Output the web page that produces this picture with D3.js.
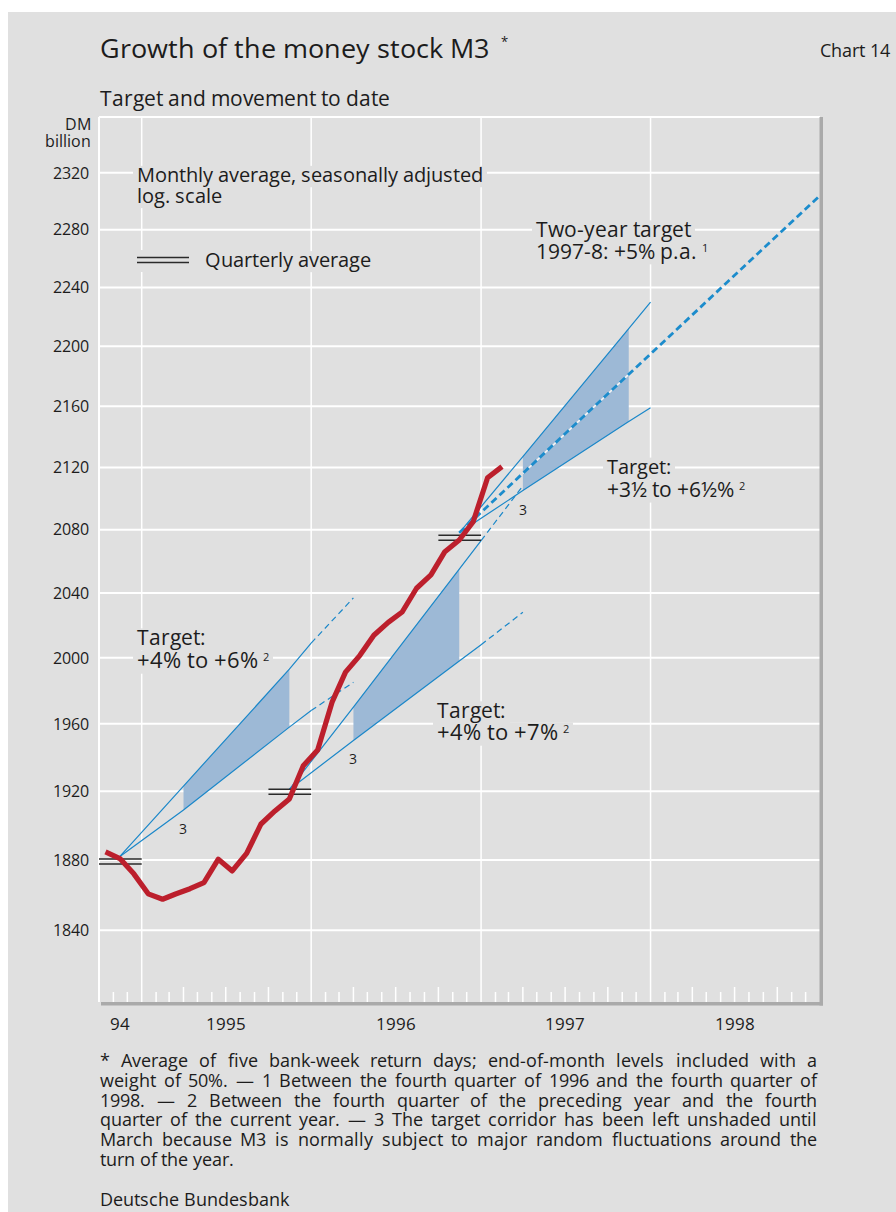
<!DOCTYPE html>
<html><head><meta charset="utf-8">
<script src="https://cdn.jsdelivr.net/npm/d3@7"></script>
<style>
@font-face{
  font-family:"OpenSansTight";
  src: local("Open Sans Regular"), local("OpenSans-Regular");
  font-weight: 400;
  ascent-override: 78%; descent-override: 20%; line-gap-override: 0%;
}
body{margin:0;background:#fff}
svg{display:block}
text{font-family:"OpenSansTight","Open Sans",sans-serif;fill:#1c1c1c}
</style>
</head><body>
<svg id="chart" width="896" height="1212"></svg>
<script>
// ---------------- DATA ----------------
const m3Months = ["1994-10","1994-11","1994-12",
  "1995-01","1995-02","1995-03","1995-04","1995-05","1995-06","1995-07","1995-08","1995-09","1995-10","1995-11","1995-12",
  "1996-01","1996-02","1996-03","1996-04","1996-05","1996-06","1996-07","1996-08","1996-09","1996-10","1996-11","1996-12",
  "1997-01","1997-02"];
const m3Values = [1884.6,1880.8,1872,
  1860.6,1857.5,1860.5,1863.5,1867,1880.4,1873.7,1883.8,1900.8,1908.4,1915.4,1935,
  1944.4,1973,1991.2,2001.5,2013.8,2021.8,2028.2,2043,2051.4,2066,2073.4,2085,
  2113.3,2120.5];

const quarterStarts = ["1994-10-01","1995-10-01","1996-10-01"];
const quarterEnds   = ["1995-01-01","1996-01-01","1997-01-01"];
const quarterAverages = [1879.1,1919.6,2074.8];

// target corridors: origin, shading start, shading end, end of solid line, end of dashed line
const corridor1995Dates = ["1994-11-15","1995-04-01","1995-11-15","1996-01-01","1996-04-01"];
const corridor1995Upper = [1882,1923,1993,2009,2037];
const corridor1995Lower = [1882,1909,1958,1968,1985];
const corridor1996Dates = ["1995-11-15","1996-04-01","1996-11-15","1997-01-01","1997-04-01"];
const corridor1996Upper = [1921,1970,2055,2073,2108];
const corridor1996Lower = [1921,1950,1998,2008,2028];
const corridor1997Dates = ["1996-11-15","1997-04-01","1997-11-15","1998-01-01"];
const corridor1997Upper = [2078,2127,2212,2230];
const corridor1997Lower = [2078,2105,2150,2159];
const twoYearDates  = ["1996-11-15","1999-01-01"];
const twoYearValues = [2078,2304];

const yTicks = [1840,1880,1920,1960,2000,2040,2080,2120,2160,2200,2240,2280,2320];
const yearLabels = ["94","1995","1996","1997","1998"];
const yearLabelDates = ["1994-11-15","1995-07-01","1996-07-01","1997-07-01","1998-07-01"];
const yearLines = ["1995-01-01","1996-01-01","1997-01-01","1998-01-01"];

const footnoteLines = [
  "* Average of five bank-week return days; end-of-month levels included with a",
  "weight of 50%. \u2014 1 Between the fourth quarter of 1996 and the fourth quarter of",
  "1998. \u2014 2 Between the fourth quarter of the preceding year and the fourth",
  "quarter of the current year. \u2014 3 The target corridor has been left unshaded until",
  "March because M3 is normally subject to major random fluctuations around the",
  "turn of the year."
];

// ---------------- SETUP ----------------
const BG = "#e0e0e0", BLUE = "#1a87c9", SHADE = "#9db9d6", RED = "#bc1f2c";
const parseDay = d3.timeParse("%Y-%m-%d");
const parseMonth = d3.timeParse("%Y-%m");
const midMonth = s => { const d = parseMonth(s); return new Date(d.getFullYear(), d.getMonth(), 15); };

// iterative size fitting (font advances may not scale linearly with size)
function fitSize(node, target, start){
  let fs = start;
  let best = fs, bestErr = Infinity;
  for(let k=0;k<8;k++){
    node.style.fontSize = fs.toFixed(2)+"px";
    const w = node.getComputedTextLength();
    const err = Math.abs(w-target);
    if(err<bestErr){bestErr=err;best=fs;}
    if(err<0.5) break;
    fs = fs*target/w;
  }
  node.style.fontSize = best.toFixed(2)+"px";
  return best;
}

function draw(){
const svg = d3.select("#chart");
svg.selectAll("*").remove();
const L = 99, R = 820, T = 117, B = 1002;
const x = d3.scaleTime().domain([parseDay("1994-10-01"), parseDay("1999-01-01")]).range([L, R]);
const y = d3.scaleLog().domain([1800, 2360]).range([B, T]);

svg.append("rect").attr("x",8).attr("y",12).attr("width",888).attr("height",1200).attr("fill",BG);

const gGrid = svg.append("g");
const gLabelBg = svg.append("g");
const gData = svg.append("g");
const gText = svg.append("g");

// gridlines
gGrid.selectAll(".hg").data(yTicks).join("line")
  .attr("x1",L).attr("x2",R).attr("y1",d=>y(d)).attr("y2",d=>y(d))
  .attr("stroke","#fff").attr("stroke-width",2);
gGrid.selectAll(".vg").data(yearLines).join("line")
  .attr("x1",d=>x(parseDay(d))).attr("x2",d=>x(parseDay(d))).attr("y1",T).attr("y2",B)
  .attr("stroke","#fff").attr("stroke-width",1.5);
gGrid.append("line").attr("x1",L).attr("x2",R).attr("y1",T).attr("y2",T).attr("stroke","#fff").attr("stroke-width",2);
gGrid.append("line").attr("x1",L).attr("x2",L).attr("y1",T).attr("y2",B).attr("stroke","#fff").attr("stroke-width",2);
const months = d3.timeMonth.range(parseDay("1994-11-01"), parseDay("1999-01-01")).filter(d=>d.getMonth()!==0);
gGrid.selectAll(".mt").data(months).join("line")
  .attr("x1",d=>x(d)).attr("x2",d=>x(d)).attr("y1",B).attr("y2",d=>d.getMonth()%3===0? B-15 : B-10)
  .attr("stroke","#fff").attr("stroke-width",1.5);
gGrid.append("rect").attr("x",L+2).attr("y",B).attr("width",R-L+1).attr("height",3.5).attr("fill","#aaa");
gGrid.append("rect").attr("x",R-0.5).attr("y",T).attr("width",3.5).attr("height",B-T+3.5).attr("fill","#aaa");

function fitText(sel, target, start){ fitSize(sel.node(), target, start); return sel; }
function labelBlock(xx, lines){
  const t = gText.append("text");
  lines.forEach(ln=>{
    const sp = t.append("tspan").attr("x",xx).attr("y",ln.y).text(ln.text);
    const fs = fitSize(sp.node(), ln.width, 18);
    let w = sp.node().getComputedTextLength();
    if(ln.sup){
      const s = t.append("tspan").attr("dx",5).attr("dy",-7).style("font-size","11px").text(ln.sup);
      w += 5 + s.node().getComputedTextLength();
    }
    gLabelBg.append("rect").attr("x",xx-4).attr("y",ln.y-0.8*fs).attr("width",w+8).attr("height",1.06*fs).attr("fill",BG);
  });
  return t;
}

// y axis labels
const yl = gText.selectAll(".yl").data(yTicks).join("text")
  .attr("x",89).attr("y",d=>y(d)).attr("dy","0.36em").attr("text-anchor","end").text(d=>d);
const ylSize = fitSize(yl.node(), 38, 16);
yl.style("font-size",ylSize.toFixed(2)+"px");
const unit = gText.append("text").attr("text-anchor","end").style("font-size",ylSize.toFixed(2)+"px");
unit.append("tspan").attr("x",91).attr("y",130).text("DM");
unit.append("tspan").attr("x",91).attr("y",147).text("billion");
// x labels
const xl = gText.selectAll(".xl").data(yearLabels).join("text")
  .attr("x",(d,i)=>x(parseDay(yearLabelDates[i]))).attr("y",1030).attr("text-anchor","middle").text(d=>d);
const xlSize = fitSize(xl.filter((d,i)=>i===1).node(), 42, 17);
xl.style("font-size",xlSize.toFixed(2)+"px");

// titles
fitText(gText.append("text").attr("x",100).attr("y",58).text("Growth of the money stock M3"), 391, 25);
gText.append("text").attr("x",501).attr("y",46).style("font-size","13px").text("*");
fitText(gText.append("text").attr("x",820).attr("y",57).text("Chart 14"),72,15);
fitText(gText.append("text").attr("x",100).attr("y",106).text("Target and movement to date"),284,18);

// legend
labelBlock(137,[{text:"Monthly average, seasonally adjusted",y:182,width:355},{text:"log. scale",y:203,width:86}]);
labelBlock(205,[{text:"Quarterly average",y:267,width:171}]);
gLabelBg.append("rect").attr("x",133).attr("y",250).attr("width",64).attr("height",22).attr("fill",BG);
[257.5,262.5].forEach(v=>gText.append("line").attr("x1",137).attr("x2",189).attr("y1",v).attr("y2",v).attr("stroke","#2a2a2a").attr("stroke-width",1.5));

// annotation labels
labelBlock(536,[{text:"Two-year target",y:237,width:151},{text:"1997-8: +5% p.a.",y:259,width:157,sup:"1"}]);
labelBlock(607,[{text:"Target:",y:474,width:66},{text:"+3\u00bd to +6\u00bd%",y:497,width:131,sup:"2"}]);
labelBlock(137,[{text:"Target:",y:645,width:67},{text:"+4% to +6%",y:668,width:118,sup:"2"}]);
labelBlock(437,[{text:"Target:",y:718,width:67},{text:"+4% to +7%",y:740,width:118,sup:"2"}]);

// ---------------- DATA MARKS ----------------
const line = d3.line().x(d=>x(d[0])).y(d=>y(d[1]));
function corridor(dates, up, lo, dashed){
  const d = dates.map(parseDay);
  const poly = [[d[1],up[1]],[d[2],up[2]],[d[2],lo[2]],[d[1],lo[1]]];
  gData.append("path").attr("d", line(poly)+"Z").attr("fill",SHADE);
  [up,lo].forEach(v=>{
    gData.append("path").attr("d", line(d.slice(0,4).map((t,i)=>[t,v[i]])))
      .attr("fill","none").attr("stroke",BLUE).attr("stroke-width",1.2);
    if(dashed){
      gData.append("path").attr("d", line([[d[3],v[3]],[d[4],v[4]]]))
        .attr("fill","none").attr("stroke",BLUE).attr("stroke-width",1.2).attr("stroke-dasharray","6,4");
    }
  });
  gText.append("text").attr("x",x(d[1])).attr("y",y(lo[1])+24).attr("text-anchor","middle").style("font-size","14px").text("3");
  return d;
}
corridor(corridor1995Dates, corridor1995Upper, corridor1995Lower, true);
corridor(corridor1996Dates, corridor1996Upper, corridor1996Lower, true);
const d97 = corridor(corridor1997Dates, corridor1997Upper, corridor1997Lower, false);

// two-year target
const tyPts = twoYearDates.map((s,i)=>[parseDay(s), twoYearValues[i]]);
const logInterp = (t)=>{ const a=tyPts[0], b=tyPts[1]; const f=(t-a[0])/(b[0]-a[0]); return Math.exp(Math.log(a[1])+f*(Math.log(b[1])-Math.log(a[1]))); };
gData.append("path").attr("d", line([[d97[1],logInterp(d97[1])],[d97[2],logInterp(d97[2])]]))
  .attr("stroke","#f4f4f4").attr("stroke-width",1.6).attr("fill","none");
gData.append("path").attr("d", line(tyPts)).attr("fill","none").attr("stroke","#1c8ccc")
  .attr("stroke-width",2.8).attr("stroke-dasharray","7,4");

// quarterly averages
quarterAverages.forEach((v,i)=>{
  const x1 = x(parseDay(quarterStarts[i])), x2 = x(parseDay(quarterEnds[i]));
  [-2.5,2.5].forEach(o=>gData.append("line").attr("x1",x1).attr("x2",x2).attr("y1",y(v)+o).attr("y2",y(v)+o)
    .attr("stroke","#2a2a2a").attr("stroke-width",1.5));
});

// M3 line
gData.append("path").datum(m3Months.map((m,i)=>[midMonth(m), m3Values[i]]))
  .attr("d", line).attr("fill","none").attr("stroke",RED).attr("stroke-width",5.2).attr("stroke-linejoin","round");

// ---------------- FOOTNOTE ----------------
const FS_X0 = 100, FS_W = 717;
const probe = gText.append("text").attr("x",100).attr("y",1100).text("turn of the year.");
const fnSize = fitSize(probe.node(), 137, 16);
probe.remove();
const measure = gText.append("text").attr("x",100).attr("y",1100).style("font-size",fnSize.toFixed(2)+"px");
footnoteLines.forEach((ln,i)=>{
  const yy = 1067 + i*19.8;
  const words = ln.split(" ");
  const last = i===footnoteLines.length-1;
  const widths = words.map(w=>{ measure.text(w); return measure.node().getComputedTextLength(); });
  measure.text(" ");
  const sp = last ? fnSize*0.26 : (FS_W - d3.sum(widths))/(words.length-1);
  const fn = gText.append("text").style("font-size",fnSize.toFixed(2)+"px");
  let cx = FS_X0;
  words.forEach((w,j)=>{ fn.append("tspan").attr("x",cx).attr("y",yy).text(w); cx += widths[j]+sp; });
});
measure.remove();
fitText(gText.append("text").attr("x",100).attr("y",1206).text("Deutsche Bundesbank"),188,16);
}

draw();
if (document.fonts) {
  document.fonts.load('18px "OpenSansTight"').then(draw, draw);
}
setTimeout(draw, 60);
</script>
</body></html>
